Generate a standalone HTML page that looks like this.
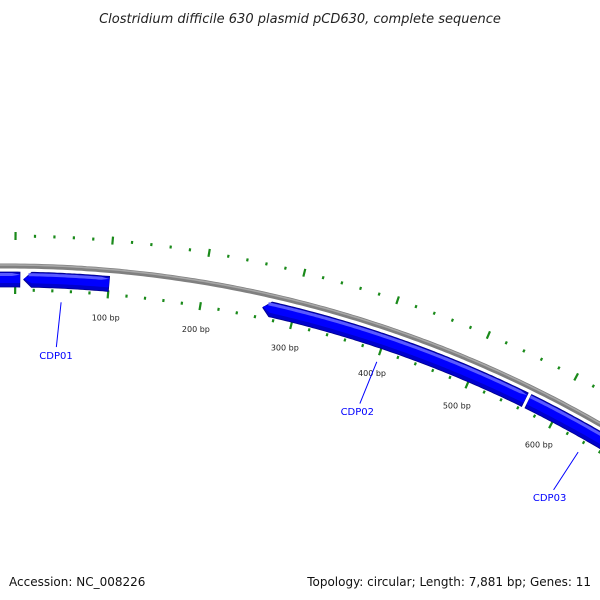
<!DOCTYPE html>
<html><head><meta charset="utf-8"><style>
body{margin:0;background:#fff}
svg{display:block}
text{font-family:"DejaVu Sans","Liberation Sans",sans-serif}
</style></head><body>
<svg id="map" width="600" height="600" viewBox="0 0 600 600" xmlns="http://www.w3.org/2000/svg">
<rect width="600" height="600" fill="#fff"/>
<text x="300" y="23" text-anchor="middle" font-size="13" font-style="italic" fill="#222">Clostridium difficile 630 plasmid pCD630, complete sequence</text>
<g id="ticks"></g><g id="backbone"></g><g id="genes"></g><g id="labels"></g>
<text x="9" y="586" font-size="12" fill="#111">Accession: NC_008226</text>
<text x="591" y="586" text-anchor="end" font-size="12" fill="#111">Topology: circular; Length: 7,881 bp; Genes: 11</text>
</svg>
<script>
const seqLength = 7881;
const tickLabels = ["100 bp","200 bp","300 bp","400 bp","500 bp","600 bp"];
const tickLabelPositions = [100,200,300,400,500,600];
const geneNames = ["", "CDP01", "CDP02", "CDP03"];
const geneStarts = [-60, 9, 266, 567];
const geneEnds = [5, 100, 563, 760];
const geneStrands = [-1, -1, -1, 1];
const geneLabelBp = [null, 50, 400, 640];

const NS="http://www.w3.org/2000/svg";
const cx=7, cy=1456, R=1190, theta0=0.007;
function ang(bp){return theta0+bp/seqLength*2*Math.PI;}
function pt(bp,r){const a=ang(bp);return [cx+r*Math.sin(a), cy-r*Math.cos(a)];}
function mk(tag,attrs,parent){const e=document.createElementNS(NS,tag);for(const k in attrs)e.setAttribute(k,attrs[k]);parent.appendChild(e);return e;}
const gT=document.getElementById('ticks'),gB=document.getElementById('backbone'),gG=document.getElementById('genes'),gL=document.getElementById('labels');

// backbone
let d="";for(let b=-200;b<=900;b+=5){const p=pt(b,R);d+=(d?"L":"M")+p[0].toFixed(1)+","+p[1].toFixed(1);}
const bb1=mk('path',{d:d,fill:'none',stroke:'#808080','stroke-width':5},gB);


mk('path',{d:d,fill:'none',stroke:'#a8a8a8','stroke-width':1.5,transform:'translate(0,-1)'},gB);

// ticks
for(let b=-100;b<=900;b+=20){
  const major=(b%100===0);
  const L=major?8:3;
  [[R-24,'inner'],[R+30,'outer']].forEach(([r,side])=>{
    const p1=pt(b,r-L/2),p2=pt(b,r+L/2);
    const t=mk('line',{x1:p1[0],y1:p1[1],x2:p2[0],y2:p2[1],stroke:'#1a8a1a','stroke-width':2.2},gT);
    
    
  });
}
tickLabels.forEach((s,i)=>{
  const p=pt(tickLabelPositions[i],R-50);
  const t=mk('text',{x:p[0].toFixed(1),y:p[1].toFixed(1),'text-anchor':'middle','font-size':8,fill:'#222'},gL);
  t.textContent=s;
  
  
});

// genes
const rOut=R-6,rIn=R-21,rMid=(rOut+rIn)/2,ahBp=8/R*seqLength/(2*Math.PI);
function bandPath(s,e,ro,ri,strand){
  let pts=[];
  if(strand<0){
    pts.push(pt(s,(ro+ri)/2));
    for(let b=s+ahBp;b<=e;b+=3)pts.push(pt(b,ro));pts.push(pt(e,ro));
    pts.push(pt(e,ri));for(let b=e;b>=s+ahBp;b-=3)pts.push(pt(b,ri));pts.push(pt(s+ahBp,ri));
  }else{
    for(let b=s;b<=e-ahBp;b+=3)pts.push(pt(b,ro));pts.push(pt(e-ahBp,ro));
    pts.push(pt(e,(ro+ri)/2));
    pts.push(pt(e-ahBp,ri));for(let b=e-ahBp;b>=s;b-=3)pts.push(pt(b,ri));pts.push(pt(s,ri));
  }
  return "M"+pts.map(p=>p[0].toFixed(1)+","+p[1].toFixed(1)).join("L")+"Z";
}
geneStarts.forEach((s,i)=>{
  const e=geneEnds[i],st=geneStrands[i];
  const g=mk('g',{},gG);
  
  
  mk('path',{d:bandPath(s,e,rOut,rIn,st),fill:'#0000cc',stroke:'#00008a','stroke-width':0.8},g);
  mk('path',{d:bandPath(s,e,rOut-2,rIn+4,st),fill:'#0000ff'},g);
  mk('path',{d:bandPath(s+ (st<0?ahBp*0.6:0),e-(st>0?ahBp*0.6:0),rOut-1,rOut-4,0).replace(/Z$/,'Z'),fill:'#5a5aff'},g);
  if(geneNames[i]){
    const lb=geneLabelBp[i];
    const p1=pt(lb,R-35),p2=pt(lb-3,R-80),p3=pt(lb-3,R-88);
    const ln=mk('line',{x1:p1[0],y1:p1[1],x2:p2[0],y2:p2[1],stroke:'#0000ff','stroke-width':1},gL);
    
    
    const t=mk('text',{x:p3[0].toFixed(1),y:(p3[1]+4).toFixed(1),'text-anchor':'middle','font-size':10,fill:'#0000ff'},gL);
    t.textContent=geneNames[i];
    
    
  }
});
</script>
</body></html>
